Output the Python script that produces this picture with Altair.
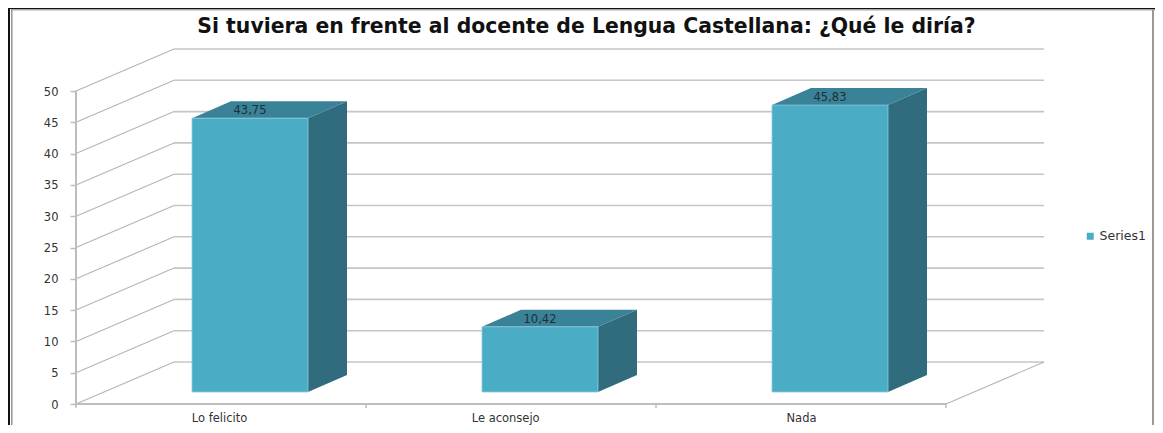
import json
import altair as alt
import pandas as pd

# --- chart values ---
categories = ["Lo felicito", "Le aconsejo", "Nada"]
values = [43.75, 10.42, 45.83]
value_labels = ["43,75", "10,42", "45,83"]
y_ticks = [0, 5, 10, 15, 20, 25, 30, 35, 40, 45, 50]
series_name = "Series1"
title_text = "Si tuviera en frente al docente de Lengua Castellana: ¿Qué le diría?"

# --- pseudo-3D geometry, in axis units ---
W, H = 1147, 417
PX_PER_VALUE = 6.26
PX_PER_CAT = 290
X_ZERO_PX, Y_ZERO_PX = 68, 396          # axis origin inside the plot area
x_dom = [-X_ZERO_PX / PX_PER_CAT, (W - X_ZERO_PX) / PX_PER_CAT]
y_dom = [-(H - Y_ZERO_PX) / PX_PER_VALUE, Y_ZERO_PX / PX_PER_VALUE]
wall_dx, wall_dy = 98 / PX_PER_CAT, 42 / PX_PER_VALUE
bar_dx, bar_dy = 39 / PX_PER_CAT, 17 / PX_PER_VALUE
bar_base = 12 / PX_PER_VALUE
bar_left, bar_right = 0.40, 0.80
label_positions = [0.493, 1.48, 2.5]

FRONT, SIDE, TOP = "#4BACC6", "#316B7E", "#3A8297"
GRID, DIAG, AXIS = "#c6c6c6", "#b4b4b4", "#bdbdbd"
FONT = "DejaVu Sans"

x_scale = alt.Scale(domain=x_dom, nice=False, zero=False)
y_scale = alt.Scale(domain=y_dom, nice=False, zero=False)


def rules(rows, color, width):
    return alt.Chart(pd.DataFrame(rows, columns=["x", "x2", "y", "y2"])).mark_rule(
        color=color, strokeWidth=width
    ).encode(x="x:Q", x2="x2:Q", y="y:Q", y2="y2:Q")


# invisible base layer that carries the real axes
base = alt.Chart(pd.DataFrame({"x": label_positions, "y": [0, 0, 0]})).mark_point(opacity=0).encode(
    x=alt.X(
        "x:Q", scale=x_scale, title=None,
        axis=alt.Axis(
            values=label_positions, offset=-(H - Y_ZERO_PX), domain=False, grid=False,
            tickSize=0, labelPadding=8, labelFont=FONT, labelFontSize=11.5,
            labelColor="#333333", labelFlush=False, labelOverlap=False,
            labelExpr=json.dumps(categories) + "[floor(datum.value)]",
        ),
    ),
    y=alt.Y(
        "y:Q", scale=y_scale, title=None,
        axis=alt.Axis(
            values=y_ticks, offset=-X_ZERO_PX, domain=False, grid=False,
            tickSize=6, tickColor=AXIS, tickWidth=1.5, labelPadding=12, labelOffset=1,
            labelFont=FONT, labelFontSize=11.5, labelColor="#333333", labelOverlap=False,
        ),
    ),
)

back_grid = rules([[wall_dx, 3 + wall_dx, v + wall_dy, v + wall_dy] for v in y_ticks], GRID, 1.6)
side_grid = rules([[0, wall_dx, v, v + wall_dy] for v in y_ticks], DIAG, 1.1)
floor_side = rules([[3, 3 + wall_dx, 0, wall_dy]], DIAG, 1.1)
y_line = rules([[0, 0, 0, y_ticks[-1]]], AXIS, 2)
x_line = rules([[0, 3, 0, 0]], AXIS, 2)
x_ticks = rules([[i, i, 0, -4 / PX_PER_VALUE] for i in range(4)], AXIS, 1.5)

side_rows, top_rows, front_rows, label_rows = [], [], [], []
for i, (cat, v, lab) in enumerate(zip(categories, values, value_labels)):
    xl, xr = i + bar_left, i + bar_right
    t = v + bar_base
    side_rows.append([
        dict(x=xr, y=bar_base, y2=t),
        dict(x=xr + bar_dx, y=bar_base + bar_dy, y2=t + bar_dy),
    ])
    top_rows.append([
        dict(x=xl, y=t, y2=t),
        dict(x=xl + bar_dx, y=t, y2=t + bar_dy),
        dict(x=xr, y=t, y2=t + bar_dy),
        dict(x=xr + bar_dx, y=t + bar_dy, y2=t + bar_dy),
    ])
    front_rows.append(dict(serie=series_name, x=xl, x2=xr, y=bar_base, y2=t))
    label_rows.append(dict(x=(xl + xr) / 2, y=t + 7 / PX_PER_VALUE, label=lab))


def face(rows, color):
    return alt.Chart(pd.DataFrame(rows)).mark_area(color=color, orient="vertical").encode(
        x="x:Q", y=alt.Y("y:Q", stack=None), y2="y2:Q"
    )


sides = [face(r, SIDE) for r in side_rows]
tops = [face(r, TOP) for r in top_rows]

front = alt.Chart(pd.DataFrame(front_rows)).mark_rect(stroke="#8ccbdc", strokeWidth=0.8).encode(
    x="x:Q", x2="x2:Q", y="y:Q", y2="y2:Q",
    color=alt.Color(
        "serie:N",
        scale=alt.Scale(domain=[series_name], range=[FRONT]),
        legend=alt.Legend(
            orient="none", legendX=1076, legendY=222, title=None, symbolType="square",
            symbolSize=49, symbolStrokeWidth=0, labelFont=FONT, labelFontSize=12.5,
            labelColor="#333333", labelOffset=3,
        ),
    ),
)

labels = alt.Chart(pd.DataFrame(label_rows)).mark_text(
    font=FONT, fontSize=11.5, color="#1f2f35"
).encode(x="x:Q", y="y:Q", text="label:N")

# picture frame, in pixels of the plot area
frame_top_black = alt.Chart(pd.DataFrame({"a": [0]})).mark_rule(color="#111111", strokeWidth=1.5).encode(
    x=alt.value(0), x2=alt.value(W), y=alt.value(0.3))
frame_top_gray = alt.Chart(pd.DataFrame({"a": [0]})).mark_rule(color="#aaaaaa", strokeWidth=1.5).encode(
    x=alt.value(3), x2=alt.value(W), y=alt.value(1.8))
frame_left_black = alt.Chart(pd.DataFrame({"a": [0]})).mark_rule(color="#111111", strokeWidth=2).encode(
    x=alt.value(1), y=alt.value(0), y2=alt.value(H))
frame_left_gray = alt.Chart(pd.DataFrame({"a": [0]})).mark_rule(color="#9a9a9a", strokeWidth=1.6).encode(
    x=alt.value(3.8), y=alt.value(1), y2=alt.value(H))
frame_right = alt.Chart(pd.DataFrame({"a": [0]})).mark_rule(color="#999999", strokeWidth=2).encode(
    x=alt.value(W - 2), y=alt.value(1), y2=alt.value(H))

chart = alt.layer(
    base, back_grid, side_grid, floor_side, y_line, x_line, x_ticks,
    *sides, *tops, front, labels,
    frame_top_black, frame_top_gray, frame_left_black, frame_left_gray, frame_right,
).properties(
    width=W, height=H, padding=0, autosize=alt.AutoSizeParams(type="none"),
    title=alt.TitleParams(
        title_text, font=FONT, fontSize=20.4, fontWeight="bold", color="#111111",
        anchor="middle", dy=34, dx=5,
    ),
).configure_view(stroke=None).configure(background="white")

chart.save("out.html", embed_options={"renderer": "svg", "actions": False})
